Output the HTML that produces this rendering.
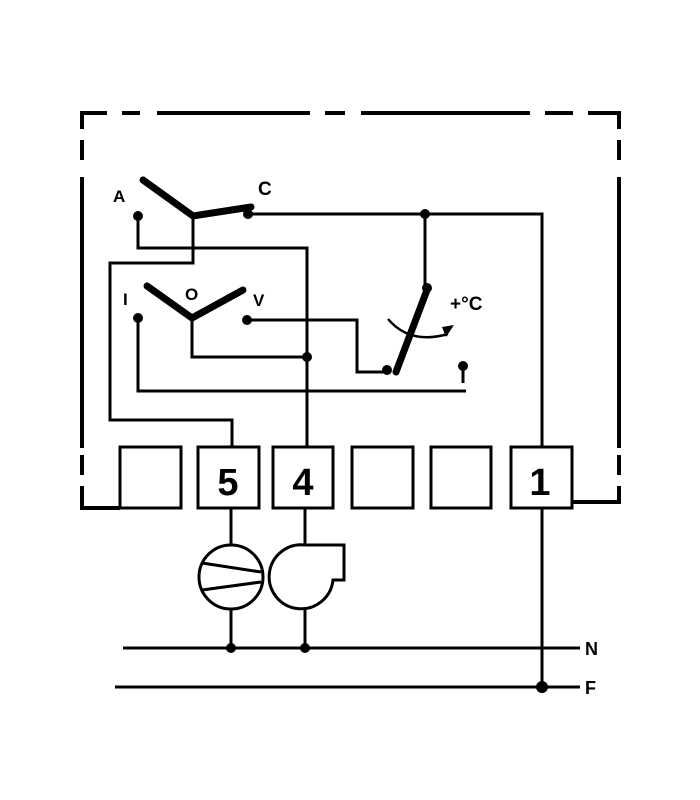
<!DOCTYPE html>
<html><head><style>html,body{margin:0;padding:0;background:#fff}svg{display:block}text{font-family:"Liberation Sans",sans-serif;font-weight:bold;fill:#000}</style></head>
<body>
<svg width="700" height="800" viewBox="0 0 700 800" xmlns="http://www.w3.org/2000/svg">
<g stroke="#000" stroke-width="4" fill="none" stroke-linecap="butt">
<path d="M80 113H107 M122 113H140 M157 113H310 M325 113H345 M361 113H530 M545 113H573 M588 113H620"/>
<path d="M82 111V129 M82 140V160 M82 177V448 M82 455V475 M82 486V508H120"/>
<path d="M619 111V129 M619 140V160 M619 177V448 M619 455V475 M619 486V502H573"/>
</g>
<g stroke="#000" stroke-width="3" fill="none">
<path d="M248 214H542V687"/>
<path d="M138 217V248H307V447"/>
<path d="M193 217V263H110V420H232V447"/>
<path d="M192 320V357H307"/>
<path d="M247 320H357V372H390"/>
<path d="M138 318V391H466"/>
<path d="M425 214V288"/>
<path d="M463 368V383"/>
<g fill="#fff">
<rect x="120" y="447" width="61" height="61"/>
<rect x="198" y="447" width="61" height="61"/>
<rect x="273" y="447" width="60" height="61"/>
<rect x="352" y="447" width="61" height="61"/>
<rect x="431" y="447" width="60" height="61"/>
<rect x="511" y="447" width="61" height="61"/>
</g>
<path d="M542 508V687"/>
<path d="M231 508V545 M231 609V648"/>
<path d="M305 508V545 M305 609V648"/>
<path d="M123 648H580 M115 687H580"/>
<circle cx="231" cy="577" r="32"/>
<path d="M202 563L261 572 M202 590L261 582"/>
<path d="M305 545H344V580H333 A32 32 0 1 1 305 545"/>
<path d="M388 319 Q410 345 448 334" stroke-width="2.5"/>
</g>
<g stroke="#000" stroke-width="7" fill="none" stroke-linecap="round">
<path d="M143 180L193 216L251 207"/>
<path d="M147 286L192 318L243 290"/>
<path d="M427 290L396 372"/>
</g>
<g fill="#000">
<circle cx="138" cy="216" r="5"/><circle cx="248" cy="214" r="5"/>
<circle cx="138" cy="318" r="5"/><circle cx="247" cy="320" r="5"/>
<circle cx="425" cy="214" r="5"/><circle cx="427" cy="288" r="5"/>
<circle cx="307" cy="357" r="5"/><circle cx="387" cy="370" r="5"/>
<circle cx="463" cy="366" r="5"/>
<circle cx="231" cy="648" r="5"/><circle cx="305" cy="648" r="5"/><circle cx="542" cy="687" r="6"/>
<path d="M442 327L454 325L446 337Z"/>
<text x="113" y="202" font-size="17">A</text>
<text x="258" y="195" font-size="19">C</text>
<text x="123" y="305" font-size="17">I</text>
<text x="185" y="300" font-size="17">O</text>
<text x="253" y="306" font-size="17">V</text>
<text x="450" y="310" font-size="19">+°C</text>
<text x="228" y="495" font-size="38" text-anchor="middle">5</text>
<text x="303" y="495" font-size="38" text-anchor="middle">4</text>
<text x="540" y="495" font-size="38" text-anchor="middle">1</text>
<text x="585" y="655" font-size="18">N</text>
<text x="585" y="694" font-size="18">F</text>
</g>
</svg>
</body></html>
